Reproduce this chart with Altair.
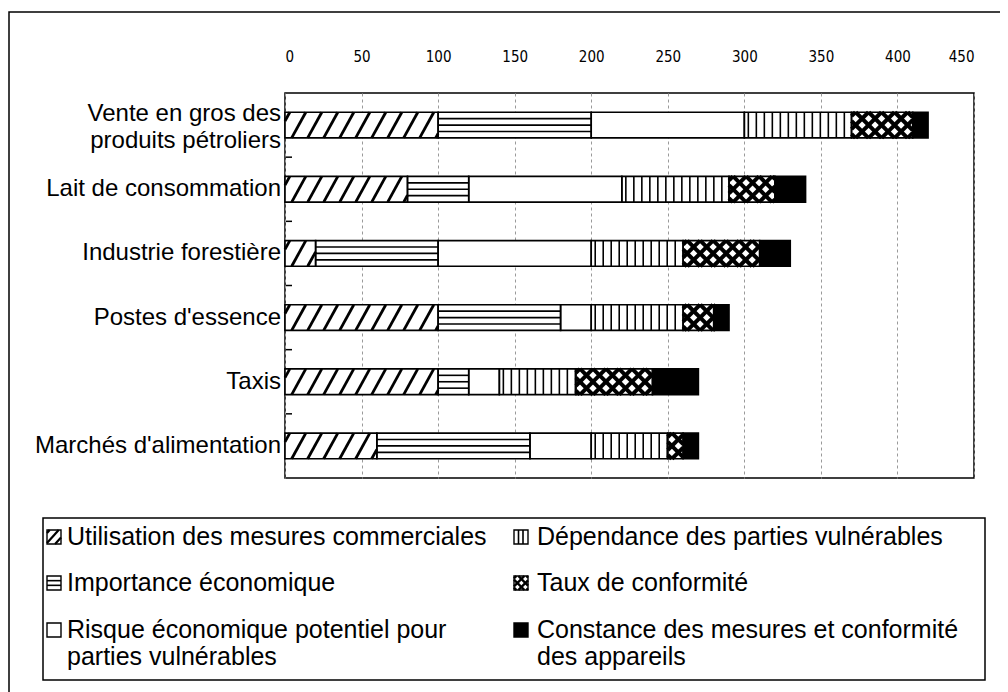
import altair as alt
import pandas as pd

# ---------------- data ----------------
categories = [
    "Vente en gros des\nproduits pétroliers",
    "Lait de consommation",
    "Industrie forestière",
    "Postes d'essence",
    "Taxis",
    "Marchés d'alimentation",
]
series = [
    "Utilisation des mesures commerciales",
    "Importance économique",
    "Risque économique potentiel pour\nparties vulnérables",
    "Dépendance des parties vulnérables",
    "Taux de conformité",
    "Constance des mesures et conformité\ndes appareils",
]
utilisation = [100, 80, 20, 100, 100, 60]
importance = [100, 40, 80, 80, 20, 100]
risque = [100, 100, 100, 20, 20, 40]
dependance = [70, 70, 60, 60, 50, 50]
taux = [40, 30, 50, 20, 50, 10]
constance = [10, 20, 20, 10, 30, 10]
x_ticks = [0, 50, 100, 150, 200, 250, 300, 350, 400, 450]

series_values = [utilisation, importance, risque, dependance, taux, constance]
patterns = ["diag", "horiz", "blank", "vert", "cross", "solid"]

# ---------------- layout constants ----------------
W, H = 689, 385
XMAX = 450
KX = W / XMAX          # px per x unit
KY = H / 6.0           # px per category unit
HALF = 0.2             # half bar height in category units
LABEL_FONT = "Liberation Sans"
TICK_FONT = "'DejaVu Sans Condensed', 'Liberation Sans', Arial, sans-serif"
FS_CAT = 24
FS_LEG = 25
LH_CAT = 27


def diag(x0, x1, yt, yb, kx, ky, spacing, dx, sw):
    wp = (x1 - x0) * kx
    lines = []
    if dx > 0:
        c, cend = -dx + spacing * 0.3, wp
    else:
        c, cend = spacing * 0.3, wp - dx
    while c < cend:
        ta = -c / dx
        tb = (wp - c) / dx
        t0 = max(0.0, min(ta, tb))
        t1 = min(1.0, max(ta, tb))
        if t1 - t0 > 1e-6:
            lines.append(dict(ax=x0 + (c + dx * t0) / kx, ay=yb - t0 * (yb - yt),
                              bx=x0 + (c + dx * t1) / kx, by=yb - t1 * (yb - yt), sw=sw))
        c += spacing
    return lines


def pattern_lines(kind, x0, x1, yt, yb, kx, ky, small=False):
    hp = (yb - yt) * ky
    out = []
    if kind == "diag":
        if small:
            out += diag(x0, x1, yt, yb, kx, ky, 9, hp * 0.9, 2.2)
        else:
            out += diag(x0, x1, yt, yb, kx, ky, 16, hp * 0.55, 2.8)
    elif kind == "horiz":
        n = 3 if small else 4
        for k in range(1, n):
            y = yt + (yb - yt) * k / n
            out.append(dict(ax=x0, ay=y, bx=x1, by=y, sw=1.6))
    elif kind == "vert":
        sp = 4.5 if small else 8.0
        u = sp / 2 if not small else sp
        while x0 + u / kx < x1 - 0.5 / kx:
            out.append(dict(ax=x0 + u / kx, ay=yt, bx=x0 + u / kx, by=yb, sw=1.6))
            u += sp
    elif kind == "cross":
        sp = 8 if small else 13
        sw = 2.4 if small else 4.0
        out += diag(x0, x1, yt, yb, kx, ky, sp, hp, sw)
        out += diag(x0, x1, yt, yb, kx, ky, sp, -hp, sw)
    return out


# ---------------- main plot tables ----------------
seg_rows, pat_rows = [], []
for i, cat in enumerate(categories):
    cum = 0
    for j, vals in enumerate(series_values):
        v = vals[i]
        x0, x1 = cum, cum + v
        cum = x1
        yt, yb = i - HALF, i + HALF
        seg_rows.append(dict(cat=cat, serie=series[j], x0=x0, x1=x1, yt=yt, yb=yb,
                             fill="black" if patterns[j] == "solid" else "white"))
        pat_rows += pattern_lines(patterns[j], x0, x1, yt, yb, KX, KY)
seg_df = pd.DataFrame(seg_rows)
pat_df = pd.DataFrame(pat_rows)
# label anchor: first line placed so that the text block is centred on the bar
lab_y = [i - ((c.count("\n")) * LH_CAT / 2 - (2 if "\n" in c else 0)) / KY
         for i, c in enumerate(categories)]
lab_df = pd.DataFrame({"label": categories, "ly": lab_y})
bnd_df = pd.DataFrame({"b": [k + 0.5 for k in range(len(categories) - 1)]})

xs = alt.Scale(domain=[0, XMAX], nice=False, zero=False)
ys = alt.Scale(domain=[-0.5, len(categories) - 0.5], reverse=True, nice=False, zero=False)
xaxis = alt.Axis(
    orient="top", values=x_ticks, grid=True, gridDash=[3, 3], gridColor="#9a9a9a",
    gridWidth=1, domain=False, ticks=False, tickSize=0, labelPadding=29,
    labelFont=TICK_FONT, labelFontSize=15, labelColor="black", title=None)

fills = alt.Chart(seg_df).mark_rect(strokeWidth=0).encode(
    x=alt.X("x0:Q", scale=xs, axis=xaxis),
    x2="x1:Q",
    y=alt.Y("yt:Q", scale=ys, axis=None),
    y2="yb:Q",
    fill=alt.Fill("fill:N", scale=None),
)
hatch = alt.Chart(pat_df).mark_rule(color="black", strokeCap="butt").encode(
    x=alt.X("ax:Q", scale=xs, axis=xaxis), x2="bx:Q",
    y=alt.Y("ay:Q", scale=ys, axis=None), y2="by:Q",
    strokeWidth=alt.StrokeWidth("sw:Q", scale=None),
)
outlines = alt.Chart(seg_df).mark_rect(fillOpacity=0, stroke="black", strokeWidth=1.6).encode(
    x=alt.X("x0:Q", scale=xs, axis=xaxis), x2="x1:Q",
    y=alt.Y("yt:Q", scale=ys, axis=None), y2="yb:Q",
)
bticks = alt.Chart(bnd_df).mark_rule(color="black", strokeWidth=1.5).encode(
    x=alt.value(1), x2=alt.value(7),
    y=alt.Y("b:Q", scale=ys, axis=None),
)
labels = alt.Chart(lab_df).mark_text(
    align="right", baseline="middle", lineBreak="\n", font=LABEL_FONT,
    fontSize=FS_CAT, lineHeight=LH_CAT, color="black").encode(
    x=alt.value(-4),
    y=alt.Y("ly:Q", scale=ys, axis=None),
    text="label:N",
)
main = alt.layer(fills, hatch, outlines, bticks, labels)

# ---------------- legend (own scales, pixel-like units) ----------------
LW, LH = 942, 162
lxs = alt.Scale(domain=[0, LW], range=[-242, -242 + LW], nice=False, zero=False)
lys = alt.Scale(domain=[0, LH], range=[425, 425 + LH], nice=False, zero=False)
SW = 14
col_sw = [4, 471]
col_tx = [24, 494]
row_sw = [12, 58, 105]
row_base = [27, 73, 120]

leg_rows, leg_pat = [], []
for j, name in enumerate(series):
    c, r = j // 3, j % 3
    sx0, sy0 = col_sw[c], row_sw[r]
    leg_rows.append(dict(name=name, sx0=sx0, sx1=sx0 + SW, sy0=sy0, sy1=sy0 + SW,
                         tx=col_tx[c], ty=row_base[r],
                         fill="black" if patterns[j] == "solid" else "white"))
    leg_pat += pattern_lines(patterns[j], sx0, sx0 + SW, sy0, sy0 + SW, 1.0, 1.0, small=True)
leg_df = pd.DataFrame(leg_rows)
leg_pat_df = pd.DataFrame(leg_pat)
box_df = pd.DataFrame({"x0": [0, -34], "x1": [LW, 975], "y0": [0, -506], "y1": [LH, 190]})

box = alt.Chart(box_df).mark_rect(fillOpacity=0, stroke="black", strokeWidth=1.5).encode(
    x=alt.X("x0:Q", scale=lxs, axis=None), x2="x1:Q",
    y=alt.Y("y0:Q", scale=lys, axis=None), y2="y1:Q",
)
sw_fill = alt.Chart(leg_df).mark_rect(strokeWidth=0).encode(
    x=alt.X("sx0:Q", scale=lxs, axis=None), x2="sx1:Q",
    y=alt.Y("sy0:Q", scale=lys, axis=None), y2="sy1:Q",
    fill=alt.Fill("fill:N", scale=None),
)
sw_hatch = alt.Chart(leg_pat_df).mark_rule(color="black", strokeCap="butt").encode(
    x=alt.X("ax:Q", scale=lxs, axis=None), x2="bx:Q",
    y=alt.Y("ay:Q", scale=lys, axis=None), y2="by:Q",
    strokeWidth=alt.StrokeWidth("sw:Q", scale=None),
)
sw_out = alt.Chart(leg_df).mark_rect(fillOpacity=0, stroke="black", strokeWidth=1.4).encode(
    x=alt.X("sx0:Q", scale=lxs, axis=None), x2="sx1:Q",
    y=alt.Y("sy0:Q", scale=lys, axis=None), y2="sy1:Q",
)
leg_text = alt.Chart(leg_df).mark_text(
    align="left", baseline="alphabetic", lineBreak="\n", font=LABEL_FONT,
    fontSize=FS_LEG, lineHeight=27, color="black").encode(
    x=alt.X("tx:Q", scale=lxs, axis=None),
    y=alt.Y("ty:Q", scale=lys, axis=None),
    text="name:N",
)
legend = alt.layer(box, sw_fill, sw_hatch, sw_out, leg_text)

chart = alt.layer(main, legend).resolve_scale(x="independent", y="independent").properties(
    width=W, height=H,
    padding={"left": 277, "top": 85, "right": 26, "bottom": 214},
    autosize=alt.AutoSizeParams(type="none"),
    background="white",
).configure(font=LABEL_FONT).configure_view(stroke="black", strokeWidth=1.5)

chart.save("out.html", embed_options={"renderer": "svg", "actions": False})
